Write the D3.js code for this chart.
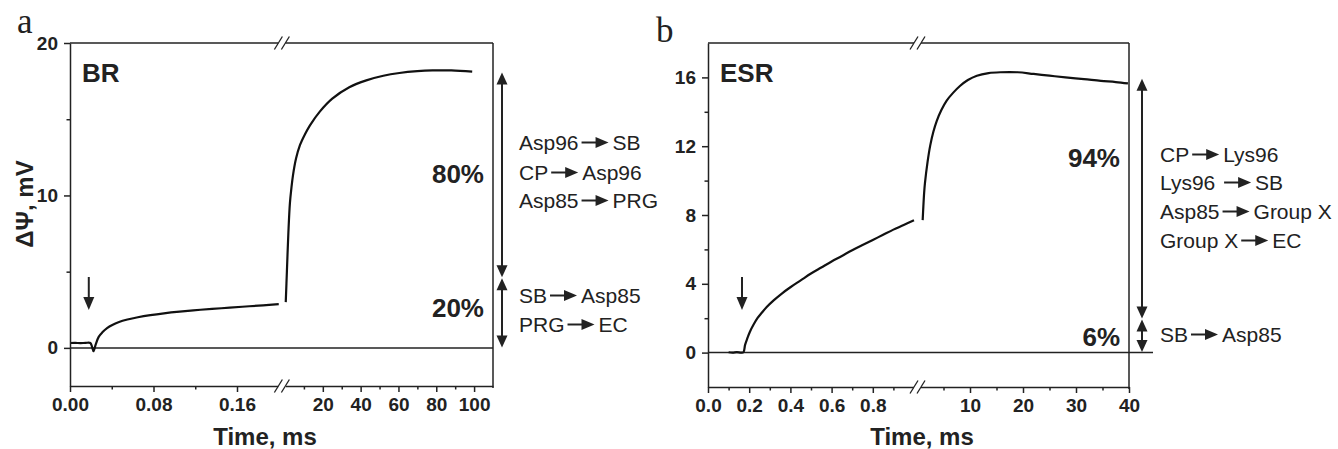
<!DOCTYPE html>
<html lang="en">
<head>
<meta charset="utf-8">
<title>BR / ESR photoelectric response</title>
<script src="https://cdn.jsdelivr.net/npm/d3@7"></script>
<style>
  body { margin: 0; background: #fff; }
  text { font-family: "Liberation Sans", Arial, sans-serif; fill: #222; }
</style>
</head>
<body>
<svg id="chart" width="1338" height="449"></svg>
<script>
// ---- data ----
// BR, time in ms, signal in mV (first part 0..0.2 ms, second part after the axis break)
var brEarly = [[0, 0.32], [0.005, 0.33], [0.01, 0.31], [0.015, 0.33], [0.0195, 0.32], [0.0212, 0.05],
  [0.0225, -0.22], [0.0245, 0.2], [0.0275, 0.72], [0.031, 1.02], [0.0355, 1.3], [0.041, 1.52],
  [0.047, 1.7], [0.055, 1.86], [0.065, 2.01], [0.077, 2.15], [0.09, 2.27], [0.105, 2.38],
  [0.125, 2.5], [0.145, 2.6], [0.165, 2.7], [0.185, 2.79], [0.2, 2.87]];
var brLate = [[0.4, 3.0], [1.0, 5.0], [1.8, 7.6], [2.6, 9.5], [3.4, 10.5], [4.2, 11.3], [5.8, 12.4],
  [7.9, 13.3], [10.5, 14.0], [13.2, 14.6], [18.4, 15.5], [25, 16.35], [34, 17.1], [43, 17.55],
  [52, 17.85], [60.5, 18.03], [70, 18.15], [78, 18.2], [88, 18.2], [99, 18.12]];
// ESR
var esrEarly = [[0.1, 0.02], [0.12, 0.0], [0.14, 0.03], [0.16, 0.0], [0.172, 0.02], [0.18, 0.45],
  [0.19, 0.8], [0.203, 1.2], [0.22, 1.6], [0.24, 2.0], [0.26, 2.3], [0.285, 2.65], [0.32, 3.05],
  [0.36, 3.45], [0.4, 3.8], [0.45, 4.2], [0.5, 4.6], [0.55, 4.95], [0.6, 5.3], [0.65, 5.62],
  [0.7, 5.95], [0.75, 6.25], [0.8, 6.55], [0.85, 6.85], [0.9, 7.15], [0.95, 7.42], [1.0, 7.7]];
var esrLate = [[1.07, 7.7], [1.2, 8.5], [1.35, 9.3], [1.5, 9.85], [2, 11.1], [2.5, 12.05], [3.1, 12.85],
  [3.7, 13.45], [4.6, 14.1], [5.6, 14.65], [6.8, 15.1], [8.1, 15.5], [9.6, 15.85], [11.3, 16.1],
  [13.5, 16.25], [15.7, 16.3], [19, 16.3], [22, 16.2], [25, 16.1], [28, 16.0], [31.5, 15.9],
  [34.7, 15.8], [37.5, 15.73], [39.8, 15.65]];

// axis ticks
var brX1Major = [0, 0.08, 0.16], brX1Minor = [0.04, 0.12];
var brX2Major = [20, 40, 60, 80, 100], brX2Minor = [10, 30, 50, 70, 90];
var brYMajor = [0, 10, 20], brYMinor = [5, 15];
var esrX1Major = [0, 0.2, 0.4, 0.6, 0.8], esrX1Minor = [0.1, 0.3, 0.5, 0.7, 0.9];
var esrX2Major = [10, 20, 30, 40], esrX2Minor = [5, 15, 25, 35];
var esrYMajor = [0, 4, 8, 12, 16], esrYMinor = [2, 6, 10, 14];

// annotations
var brSplits = [0, 4.6, 18.1];
var brPercents = ["20%", "80%"];
var brSteps = [["Asp96", "SB"], ["CP", "Asp96"], ["Asp85", "PRG"], ["SB", "Asp85"], ["PRG", "EC"]];
var esrSplits = [0, 1.95, 15.95];
var esrPercents = ["6%", "94%"];
var esrSteps = [["CP", "Lys96"], ["Lys96 ", "SB"], ["Asp85", "Group X"], ["Group X", "EC"], ["SB", "Asp85"]];

var svg = d3.select("#chart");
var ink = "#222";

function arrowHead(g, x, y, dir, w, h) {
  // dir = -1 tip up, +1 tip down
  g.append("path")
    .attr("d", "M" + x + "," + y + "L" + (x - w / 2) + "," + (y - dir * h) + "L" + (x + w / 2) + "," + (y - dir * h) + "Z")
    .attr("fill", ink);
}

function reaction(g, x, y, left, right) {
  var t = g.append("text").attr("x", x).attr("y", y).attr("font-size", 21)
    .style("white-space", "pre").text(left);
  var w = t.node().getComputedTextLength();
  var a0 = x + w + 3, a1 = a0 + 27, ay = y - 7.5;
  g.append("line").attr("x1", a0).attr("x2", a1 - 10).attr("y1", ay).attr("y2", ay)
    .attr("stroke", ink).attr("stroke-width", 2);
  g.append("path").attr("d", "M" + a1 + "," + ay + "L" + (a1 - 13) + "," + (ay - 5.5) + "L" + (a1 - 13) + "," + (ay + 5.5) + "Z")
    .attr("fill", ink);
  g.append("text").attr("x", a1 + 4).attr("y", y).attr("font-size", 21).text(right);
}

function panel(p) {
  var g = svg.append("g");
  var x1 = d3.scaleLinear().domain(p.dom1).range([p.left, p.brk1]);
  var x2 = d3.scaleLinear().domain(p.dom2).range([p.brk2, p.right]);
  var y = d3.scaleLinear().domain(p.ydom).range([p.bottom, p.top]);

  // zero line
  g.append("line").attr("x1", p.left).attr("x2", p.zeroEnd).attr("y1", y(0)).attr("y2", y(0))
    .attr("stroke", ink).attr("stroke-width", 1.5);

  // traces
  var curve = d3.curveCatmullRom.alpha(0.5);
  var l1 = d3.line().x(function (d) { return x1(d[0]); }).y(function (d) { return y(d[1]); }).curve(curve);
  var l2 = d3.line().x(function (d) { return x2(d[0]); }).y(function (d) { return y(d[1]); }).curve(curve);
  g.append("path").attr("d", l1(p.early)).attr("fill", "none").attr("stroke", "#111").attr("stroke-width", 2.2);
  g.append("path").attr("d", l2(p.late)).attr("fill", "none").attr("stroke", "#111").attr("stroke-width", 2.2);

  // axes
  function style(sel, keepDomain) {
    sel.selectAll(".domain").attr("stroke", ink).attr("stroke-width", 1.5);
    if (!keepDomain) sel.selectAll(".domain").remove();
    sel.selectAll(".tick line").attr("stroke", ink).attr("stroke-width", 1.5);
    sel.selectAll(".tick text").attr("font-size", 19).attr("font-weight", "bold").attr("fill", ink)
      .style("font-family", "'Liberation Sans', Arial, sans-serif");
  }
  var gy = g.append("g").attr("transform", "translate(" + p.left + ",0)")
    .call(d3.axisLeft(y).tickValues(p.yMajor).tickSize(6).tickPadding(6).tickSizeOuter(0));
  style(gy, true);
  var gym = g.append("g").attr("transform", "translate(" + p.left + ",0)")
    .call(d3.axisLeft(y).tickValues(p.yMinor).tickSize(3.5).tickFormat(""));
  style(gym, false);

  [[x1, p.x1Major, p.x1Minor, p.fmt1], [x2, p.x2Major, p.x2Minor, p.fmt2]].forEach(function (s) {
    var a = g.append("g").attr("transform", "translate(0," + p.bottom + ")")
      .call(d3.axisBottom(s[0]).tickValues(s[1]).tickSize(6).tickPadding(6).tickSizeOuter(0).tickFormat(s[3]));
    style(a, true);
    var m = g.append("g").attr("transform", "translate(0," + p.bottom + ")")
      .call(d3.axisBottom(s[0]).tickValues(s[2]).tickSize(3.5).tickFormat(""));
    style(m, false);
  });

  // frame
  g.append("line").attr("x1", p.left).attr("x2", p.right).attr("y1", p.top).attr("y2", p.top)
    .attr("stroke", ink).attr("stroke-width", 1.5);
  g.append("line").attr("x1", p.right).attr("x2", p.right).attr("y1", p.top).attr("y2", p.bottom + 2)
    .attr("stroke", ink).attr("stroke-width", 1.5);

  // axis break marks
  var bx = (p.brk1 + p.brk2) / 2 + p.brkShift;
  [p.top, p.bottom].forEach(function (by) {
    g.append("rect").attr("x", bx - 3.5).attr("y", by - 3).attr("width", 7).attr("height", 6).attr("fill", "#fff");
    [-3.5, 3.5].forEach(function (o) {
      g.append("line").attr("x1", bx + o - 4).attr("y1", by + 6.5).attr("x2", bx + o + 4).attr("y2", by - 6.5)
        .attr("stroke", ink).attr("stroke-width", 1.3);
    });
  });

  // flash arrow
  var fx = x1(p.flash);
  g.append("line").attr("x1", fx).attr("x2", fx).attr("y1", 277).attr("y2", 299).attr("stroke", ink).attr("stroke-width", 2);
  arrowHead(g, fx, 310, 1, 11, 13);

  // panel name and letter
  g.append("text").attr("x", p.left + 12).attr("y", 82).attr("font-size", 26).attr("font-weight", "bold").text(p.name);
  g.append("text").attr("x", p.letterX).attr("y", p.letterY).attr("font-size", 35)
    .style("font-family", "'Liberation Serif', 'Times New Roman', serif").text(p.letter);

  // x title
  g.append("text").attr("x", p.titleX).attr("y", 445).attr("text-anchor", "middle")
    .attr("font-size", 24).attr("font-weight", "bold").text("Time, ms");

  // double arrows with percents
  for (var i = 0; i < 2; i++) {
    var lo = y(p.splits[i]) - 0.5, hi = y(p.splits[i + 1]) + 0.5;
    g.append("line").attr("x1", p.arrX).attr("x2", p.arrX).attr("y1", lo - 10).attr("y2", hi + 10)
      .attr("stroke", ink).attr("stroke-width", 2);
    arrowHead(g, p.arrX, hi, -1, 11, 12);
    arrowHead(g, p.arrX, lo, 1, 11, 12);
    g.append("text").attr("x", p.pctX).attr("y", p.pctY[i]).attr("text-anchor", "end")
      .attr("font-size", 26).attr("font-weight", "bold").text(p.percents[i]);
  }

  // reaction steps
  p.steps.forEach(function (s, k) { reaction(g, p.textX, p.stepY[k], s[0], s[1]); });
  return g;
}

panel({
  left: 70, brk1: 278.75, brk2: 285, right: 493, top: 43, bottom: 386, zeroEnd: 493, brkShift: 0,
  dom1: [0, 0.2], dom2: [0, 110], ydom: [-2.5, 20],
  early: brEarly, late: brLate,
  x1Major: brX1Major, x1Minor: brX1Minor, x2Major: brX2Major, x2Minor: brX2Minor,
  yMajor: brYMajor, yMinor: brYMinor, fmt1: d3.format(".2f"), fmt2: d3.format("d"),
  flash: 0.018, name: "BR", letter: "a", letterX: 17, letterY: 33, titleX: 265,
  splits: brSplits, percents: brPercents, arrX: 502, pctX: 484, pctY: [317, 183],
  steps: brSteps, textX: 519, stepY: [150, 180, 208, 303, 332]
});

panel({
  left: 708, brk1: 914, brk2: 917, right: 1129, top: 43, bottom: 387, zeroEnd: 1153, brkShift: 2,
  dom1: [0, 1.0], dom2: [0, 40], ydom: [-2, 18],
  early: esrEarly, late: esrLate,
  x1Major: esrX1Major, x1Minor: esrX1Minor, x2Major: esrX2Major, x2Minor: esrX2Minor,
  yMajor: esrYMajor, yMinor: esrYMinor, fmt1: d3.format(".1f"), fmt2: d3.format("d"),
  flash: 0.165, name: "ESR", letter: "b", letterX: 656, letterY: 42, titleX: 922,
  splits: esrSplits, percents: esrPercents, arrX: 1142, pctX: 1120, pctY: [346, 167],
  steps: esrSteps, textX: 1160, stepY: [162, 190, 219, 248, 342]
});

// y title (panel a only)
svg.append("text").attr("transform", "translate(33,204) rotate(-90)").attr("text-anchor", "middle")
  .attr("font-size", 24).attr("font-weight", "bold").text("ΔΨ, mV");
</script>
</body>
</html>
